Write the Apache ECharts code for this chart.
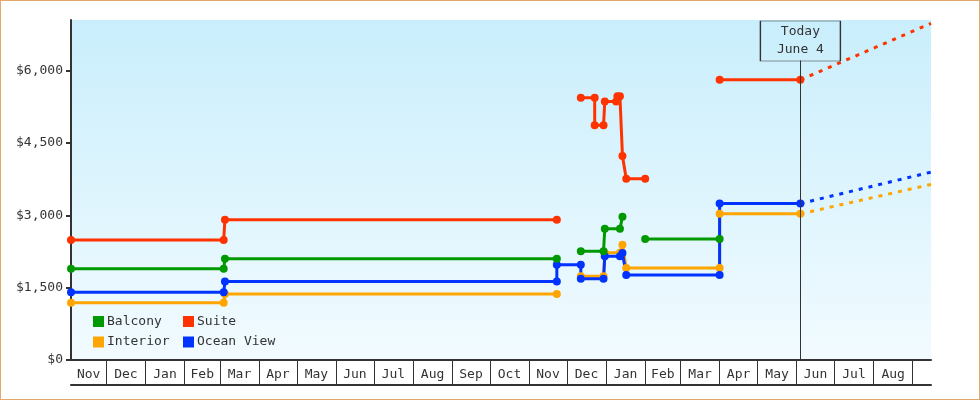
<!DOCTYPE html>
<html><head><meta charset="utf-8">
<script src="https://cdn.jsdelivr.net/npm/echarts@6/dist/echarts.min.js"></script>
<style>
html,body{margin:0;padding:0;background:#fff;}
#wrap{position:relative;width:980px;height:400px;}
#chart{width:980px;height:400px;}
#frame{position:absolute;left:0;top:0;width:980px;height:400px;box-sizing:border-box;border:1px solid #e3a96b;pointer-events:none;}
</style></head><body>
<div id="wrap"><div id="chart"></div><div id="frame"></div></div>
<script>
// ---------- data ----------
const axisStart = '2021-11-03';
const axisEnd = '2023-09-15 12:00';
const monthNames = ['Nov','Dec','Jan','Feb','Mar','Apr','May','Jun','Jul','Aug','Sep','Oct',
                    'Nov','Dec','Jan','Feb','Mar','Apr','May','Jun','Jul','Aug'];
const monthStarts = ['2021-11-01','2021-12-01','2022-01-01','2022-02-01','2022-03-01','2022-04-01',
  '2022-05-01','2022-06-01','2022-07-01','2022-08-01','2022-09-01','2022-10-01','2022-11-01',
  '2022-12-01','2023-01-01','2023-02-01','2023-03-01','2023-04-01','2023-05-01','2023-06-01',
  '2023-07-01','2023-08-01','2023-09-01'];
const priceTicks = [0, 1500, 3000, 4500, 6000];
const today = '2023-06-04';
const todayLabel = 'Today\nJune 4';

const balcony = [
  ['2021-11-03',1890],['2022-03-04',1890],['2022-03-05',2100],['2022-11-23',2100],
  ['2022-12-01','-'],
  ['2022-12-12',2255],['2022-12-30',2255],['2022-12-31',2720],['2023-01-12',2720],['2023-01-14',2970],
  ['2023-01-20','-'],
  ['2023-02-01',2510],['2023-04-01',2510]
];
const interior = [
  ['2021-11-03',1185],['2022-03-04',1185],['2022-03-05',1370],['2022-11-23',1370],
  ['2022-12-01','-'],
  ['2022-12-12',1735],['2022-12-30',1735],['2022-12-31',2225],['2023-01-12',2225],['2023-01-14',2390],
  ['2023-01-17',1910],['2023-04-01',1910],['2023-04-01',3030],['2023-06-04',3030]
];
const oceanView = [
  ['2021-11-03',1405],['2022-03-04',1405],['2022-03-05',1630],['2022-11-23',1630],['2022-11-23',1975],
  ['2022-12-12',1975],['2022-12-12',1685],['2022-12-30',1685],['2022-12-31',2150],['2023-01-12',2150],
  ['2023-01-14',2220],['2023-01-17',1765],['2023-04-01',1765],['2023-04-01',3245],['2023-06-04',3245]
];
const suite = [
  ['2021-11-03',2490],['2022-03-04',2490],['2022-03-05',2910],['2022-11-23',2910],
  ['2022-12-01','-'],
  ['2022-12-12',5440],['2022-12-23',5440],['2022-12-23',4870],['2022-12-30',4870],['2022-12-31',5360],
  ['2023-01-09',5360],['2023-01-10',5470],['2023-01-12',5470],['2023-01-14',4230],['2023-01-17',3760],
  ['2023-02-01',3760],
  ['2023-03-01','-'],
  ['2023-04-01',5810],['2023-06-04',5810]
];
const suiteForecast = [['2023-06-04',5810],['2023-09-15 12:00',6980]];
const oceanForecast = [['2023-06-04',3245],['2023-09-15 12:00',3895]];
const interiorForecast = [['2023-06-04',3030],['2023-09-15 12:00',3640]];

// ---------- helpers ----------
function ts(s){
  const [d, t] = s.split(' ');
  const [y, m, dd] = d.split('-').map(Number);
  let h = 0, mi = 0;
  if (t) { [h, mi] = t.split(':').map(Number); }
  return Date.UTC(y, m - 1, dd, h, mi);
}
const toSeries = arr => arr.map(p => [ts(p[0]), p[1]]);
const xMin = ts(axisStart), xMax = ts(axisEnd);
const startTs = monthStarts.map(ts);
const sepTicks = startTs.filter(v => v > xMin && v <= xMax);
const labelValues = monthNames.map((n, i) => {
  const a = Math.max(startTs[i], xMin), b = Math.min(startTs[i + 1], xMax);
  return Math.round((a + b) / 2);
});

const FONT = '"DejaVu Sans Mono", "Liberation Mono", monospace';
const TXT = '#333';
const COLORS = { Balcony: '#009900', Suite: '#ff3300', Interior: '#ffa500', 'Ocean View': '#0033ff' };

function mainSeries(name, data){
  return {
    name, type: 'line', data: toSeries(data), z: 3,
    symbol: 'circle', symbolSize: 8, showAllSymbol: true, connectNulls: false,
    lineStyle: { color: COLORS[name], width: 3 },
    itemStyle: { color: COLORS[name], borderWidth: 0 },
    emphasis: { disabled: true }
  };
}
function forecast(name, color, data){
  return {
    name, type: 'line', data: toSeries(data), z: 2, symbol: 'none',
    lineStyle: { color, width: 3, type: [4, 6] },
    emphasis: { disabled: true }
  };
}

const chart = echarts.init(document.getElementById('chart'), null, { renderer: 'canvas' });
chart.setOption({
  animation: false,
  backgroundColor: '#fff',
  grid: {
    left: 71, right: 49, top: 20, bottom: 40, show: true, borderWidth: 0,
    backgroundColor: { type: 'linear', x: 0, y: 0, x2: 0, y2: 1,
      colorStops: [{ offset: 0, color: '#c9eefc' }, { offset: 1, color: '#f2fbff' }] }
  },
  legend: [
    { left: 93, top: 315, orient: 'vertical', padding: 0, itemGap: 7.5, itemWidth: 11, itemHeight: 11,
      icon: 'rect', data: ['Balcony', 'Interior'], selectedMode: false,
      textStyle: { fontFamily: FONT, fontSize: 13, color: TXT, padding: [0, 0, 0, -2] } },
    { left: 183, top: 315, orient: 'vertical', padding: 0, itemGap: 7.5, itemWidth: 11, itemHeight: 11,
      icon: 'rect', data: ['Suite', 'Ocean View'], selectedMode: false,
      textStyle: { fontFamily: FONT, fontSize: 13, color: TXT, padding: [0, 0, 0, -2] } }
  ],
  xAxis: [
    { type: 'value', min: xMin, max: xMax, position: 'bottom', scale: true,
      axisLine: { show: true, onZero: false, lineStyle: { color: TXT, width: 2 } },
      axisTick: { show: true, customValues: sepTicks, length: 25, lineStyle: { color: TXT, width: 1 } },
      axisLabel: { show: true, customValues: labelValues, margin: 8, color: TXT,
        fontFamily: FONT, fontSize: 13,
        formatter: v => { const i = labelValues.indexOf(v); return i >= 0 ? monthNames[i] : ''; } },
      splitLine: { show: false } },
    { type: 'value', min: xMin, max: xMax, position: 'bottom', offset: 25, scale: true,
      axisLine: { show: true, onZero: false, lineStyle: { color: TXT, width: 2 } },
      axisTick: { show: false }, axisLabel: { show: false }, splitLine: { show: false } }
  ],
  yAxis: {
    type: 'value', min: 0, max: 7050,
    axisLine: { show: true, lineStyle: { color: TXT, width: 2 } },
    axisTick: { show: true, customValues: priceTicks, length: 5, lineStyle: { color: TXT, width: 2 } },
    axisLabel: { customValues: priceTicks, margin: 8, color: TXT, fontFamily: FONT, fontSize: 13,
      formatter: v => '$' + v.toLocaleString('en-US') },
    splitLine: { show: false }
  },
  series: [
    { name: 'today', type: 'line', data: [], z: 1,
      markLine: { silent: true, symbol: ['none', 'none'], label: { show: false },
        lineStyle: { color: TXT, width: 1, type: 'solid' },
        data: [[{ coord: [ts(today), 0] }, { coord: [ts(today), 6210] }]] },
      markPoint: { silent: true, symbol: 'rect', symbolSize: [80, 40],
        itemStyle: { color: 'rgba(0,0,0,0)', borderColor: TXT, borderWidth: 1 },
        label: { show: true, position: 'inside', formatter: todayLabel, color: TXT,
          fontFamily: FONT, fontSize: 13, lineHeight: 18 },
        data: [{ coord: [ts(today), 6615] }] } },
    forecast('Interior forecast', COLORS.Interior, interiorForecast),
    forecast('Ocean View forecast', COLORS['Ocean View'], oceanForecast),
    forecast('Suite forecast', COLORS.Suite, suiteForecast),
    mainSeries('Interior', interior),
    mainSeries('Ocean View', oceanView),
    mainSeries('Balcony', balcony),
    mainSeries('Suite', suite)
  ]
});
</script>
</body></html>
